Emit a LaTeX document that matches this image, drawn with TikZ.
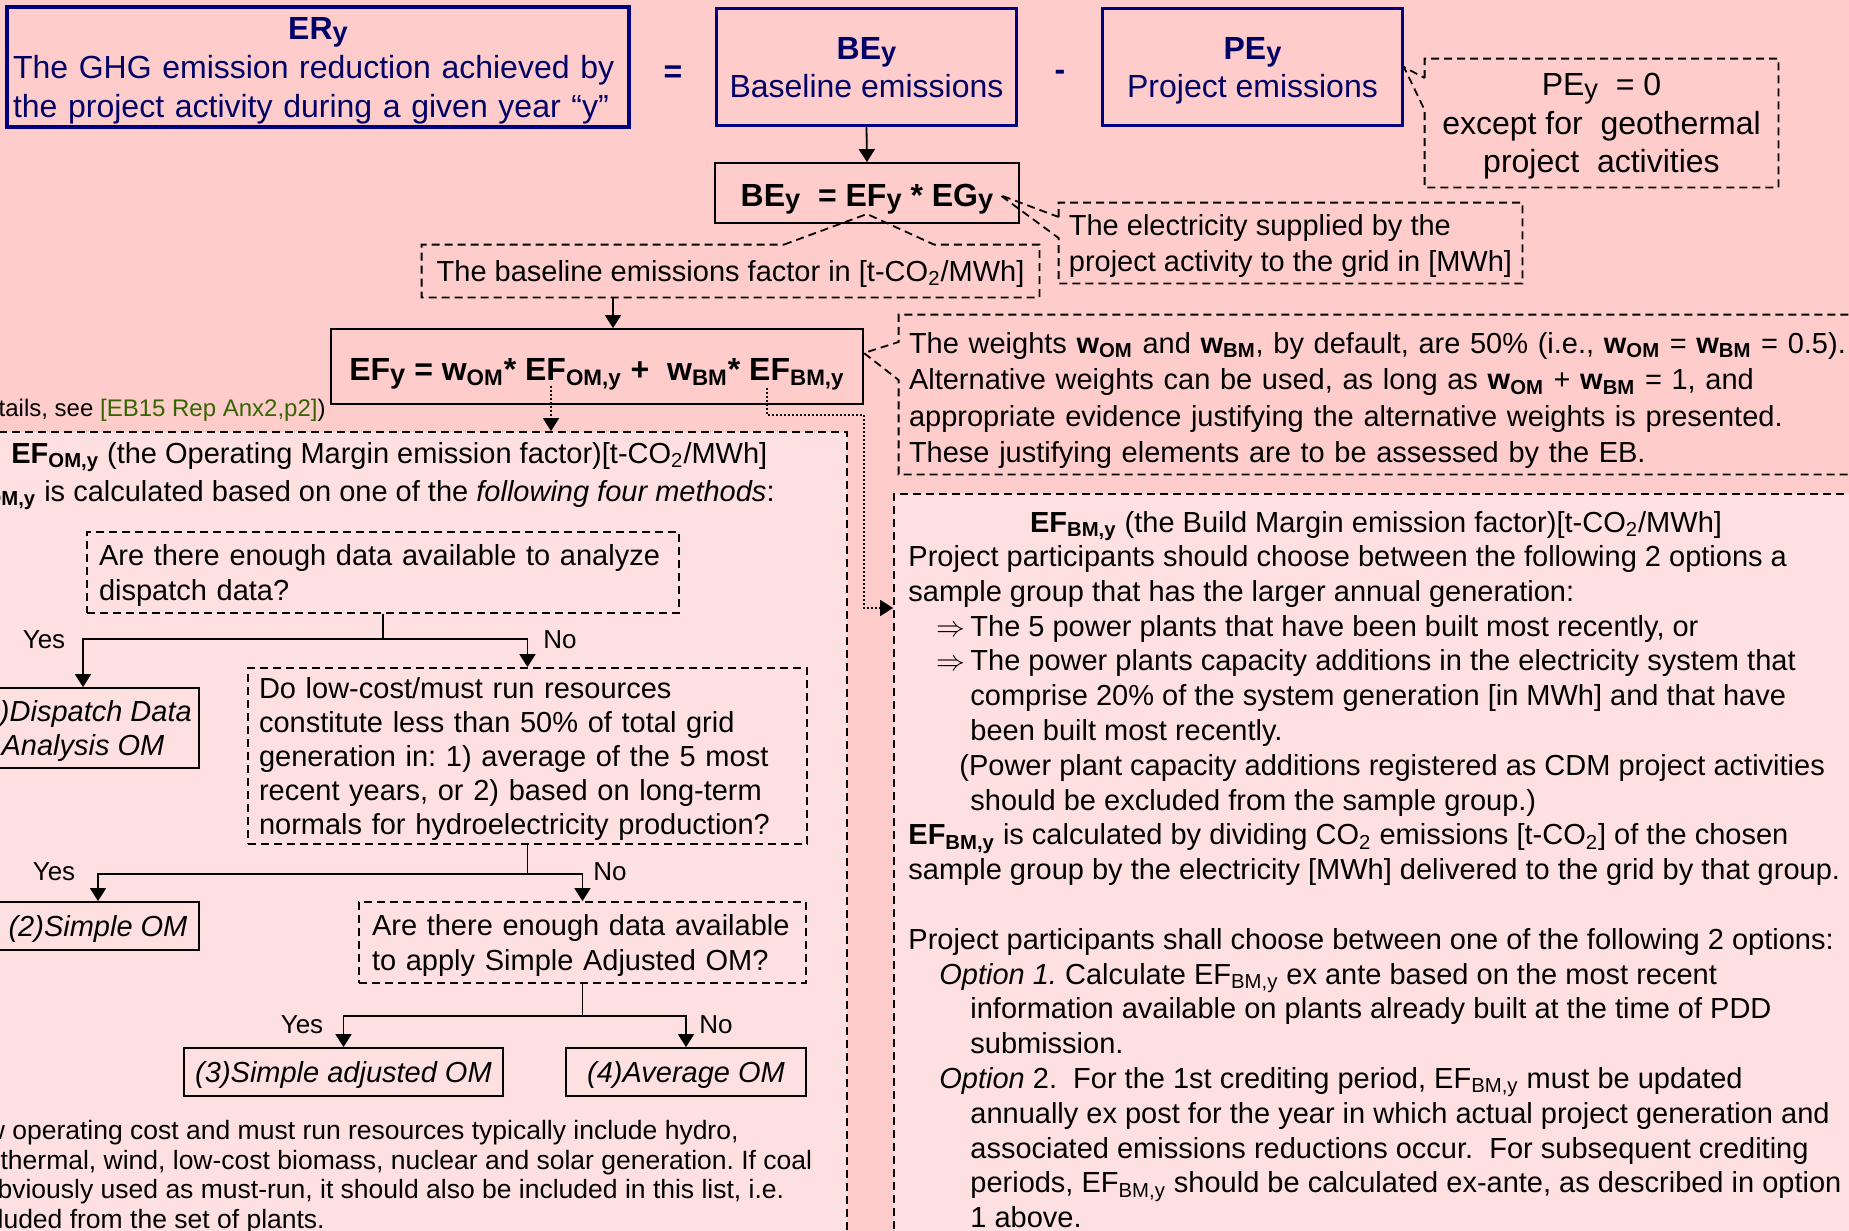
\documentclass[tikz,border=0pt]{standalone}
\usepackage{graphicx}
\usepackage{fontspec}
\setmainfont{Liberation Sans}
\usetikzlibrary{arrows.meta}
\frenchspacing
\definecolor{bgpink}{RGB}{255,204,204}
\definecolor{panelpink}{RGB}{255,224,224}
\definecolor{navy}{RGB}{0,0,128}
\definecolor{navytext}{RGB}{0,0,102}
\definecolor{refgreen}{RGB}{51,102,0}
\newcommand\yy{\raisebox{-0.15ex}{\scalebox{0.85}{y}}}
\newcommand\wom{\textbf{w\textsubscript{OM}}}
\newcommand\wbm{\textbf{w\textsubscript{BM}}}
\newcommand\fbig{\fontsize{16}{19}\selectfont}
\newcommand\fmid{\fontsize{14.5}{17.4}\selectfont}
\newcommand\fsmall{\fontsize{13}{14.75}\selectfont}
\newcommand\fref{\fontsize{12}{14}\selectfont}
\newcommand\impl{\hspace*{14pt}\makebox[17pt][l]{$\Rightarrow$}}
\tikzset{
  navybox/.style={draw=navy, text=navytext, font=\fbig, align=center, inner sep=0pt},
  solidbox/.style={draw, line width=0.9pt, inner sep=0pt},
  dashbox/.style={draw, line width=0.9pt, dash pattern=on 4pt off 2.5pt, inner sep=0pt},
  panel/.style={dashbox, fill=panelpink},
  wedgeline/.style={line width=0.9pt, dash pattern=on 4pt off 2.5pt},
  arr/.style={-{Triangle[length=6.5pt,width=8pt]}, line width=0.9pt},
  dotarr/.style={arr, dash pattern=on 0.8pt off 1.2pt},
  lbl/.style={font=\fsmall, inner sep=0pt},
}
\begin{document}
\begin{tikzpicture}[x=0.5pt, y=-0.5pt]
  \useasboundingbox (0,0) rectangle (1849,1231);
  \clip (0,0) rectangle (1849,1231);
  \fill[bgpink] (0,0) rectangle (1849,1231);

  % ER = BE - PE
  \node[navybox, font=\fontsize{16}{19.5}\selectfont, align=left, text width=305pt, text depth=39pt, line width=2.2pt, minimum width=311pt, minimum height=60pt] (er) at (318,67)
    {\makebox[\linewidth]{\textbf{ER\yy}}\\The GHG emission reduction achieved by\\the project activity during a given year “y”};
  \node[font=\fbig\bfseries, text=navytext] (eq) at (673,74) {=};
  \node[navybox, text depth=0pt, line width=1.4pt, minimum width=150pt, minimum height=58.5pt] (be) at (866.5,67)
    {\textbf{BE\yy}\\Baseline emissions};
  \node[font=\fbig\bfseries, text=navytext] (minus) at (1060,75) {-};
  \node[navybox, text depth=0pt, line width=1.4pt, minimum width=150pt, minimum height=58.5pt] (pe) at (1252.5,67)
    {\textbf{PE\yy}\\Project emissions};
  \node[font=\fontsize{16}{19.2}\selectfont, align=center, inner sep=0pt, text depth=0pt, minimum width=176.5pt, minimum height=64pt] (pezero) at (1601.5,123)
    {PE\yy\ \ = 0\\except for\ \ geothermal\\project\ \ activities};
  \draw[wedgeline] (pezero.west |- 0,78) -- (pezero.north west) -- (pezero.north east) -- (pezero.south east)
    -- (pezero.south west) -- (pezero.west |- 0,110) -- (pe.east) -- cycle;

  % BE formula
  \node[solidbox, font=\fbig\bfseries, text height=14pt, text depth=1pt, minimum width=152pt, minimum height=30pt] (beq) at (867,193)
    {BE\yy\ \ = EF\yy\ * EG\yy};
  \draw[arr] (be.south) -- (beq.north);
  \coordinate (eftip) at (867,214);
  \coordinate (egtip) at (1000,195);
  \node[font=\fontsize{14.5}{18}\selectfont, align=left, inner sep=0pt, text depth=0pt, minimum width=231.5pt, minimum height=40pt] (elec) at (1290.5,243)
    {The electricity supplied by the\\project activity to the grid in [MWh]};
  \draw[wedgeline] (elec.west |- 0,217) -- (elec.north west) -- (elec.north east) -- (elec.south east)
    -- (elec.south west) -- (elec.west |- 0,238) -- (egtip) -- cycle;
  \node[font=\fmid, inner sep=0pt, text depth=0pt, minimum width=308.5pt, minimum height=26pt] (bef) at (730.5,271)
    {The baseline emissions factor in [t-CO\textsubscript{2}/MWh]};
  \draw[wedgeline] (bef.north -| 784,0) -- (eftip) -- (bef.north -| 934,0) -- (bef.north east)
    -- (bef.south east) -- (bef.south west) -- (bef.north west) -- cycle;

  % EF formula and weights
  \node[solidbox, font=\fbig\bfseries, text height=15pt, text depth=1pt, minimum width=266pt, minimum height=37.5pt] (efy) at (597,366.5)
    {EF\yy\ = w\textsubscript{OM}* EF\textsubscript{OM,y} +\ \ w\textsubscript{BM}* EF\textsubscript{BM,y}};
  \draw[arr] (bef.south -| 613,0) -- (efy.north -| 613,0);
  \node[font=\fontsize{14.5}{18.25}\selectfont, align=left, text width=490.5pt, inner sep=0pt, text depth=51.75pt, minimum width=500.5pt, minimum height=79.5pt] (weights) at (1399.5,394.5)
    {The weights \wom{} and \wbm, by default, are 50\% (i.e., \wom{} = \wbm{} = 0.5).\\
     Alternative weights can be used, as long as \wom{} + \wbm{} = 1, and\\
     appropriate evidence justifying the alternative weights is presented.\\
     These justifying elements are to be assessed by the EB.};
  \draw[wedgeline] (weights.north east) -- (weights.north west) -- (weights.west |- 0,342) -- (efy.east |- 0,353)
    -- (weights.west |- 0,380) -- (weights.south west) -- (weights.south east);
  \node[font=\fref, anchor=east, inner sep=0pt] (ebref) at (326,410)
    {(For details, see \textcolor{refgreen}{[EB15 Rep Anx2,p2]})};

  % the two margin panels
  \node[panel, minimum width=433.5pt, minimum height=414pt] (ompanel) at (413.5,846) {};
  \node[panel, minimum width=488pt, minimum height=383pt] (bmpanel) at (1382,877) {};
  \coordinate (omtap) at (551,386);
  \coordinate (bmtap) at (767,388);
  \draw[dotarr] (omtap) -- (ompanel.north -| omtap);
  \draw[dotarr] (bmtap) |- (efy.east |- 0,415) |- (bmpanel.west |- 0,608);

  % operating margin
  \node[font=\fmid, anchor=west, inner sep=0pt] (omtitle) at (11,457)
    {\textbf{EF\textsubscript{OM,y}} (the Operating Margin emission factor)[t-CO\textsubscript{2}/MWh]};
  \node[font=\fmid, anchor=east, inner sep=0pt] (omrule) at (775,495)
    {\textbf{EF\textsubscript{OM,y}} is calculated based on one of the \textit{following four methods}:};
  \node[dashbox, font=\fontsize{14.5}{17.5}\selectfont, align=left, text width=284pt, text depth=17.5pt, minimum width=296pt, minimum height=40.5pt] (q1) at (383,572.5)
    {Are there enough data available to analyze\\dispatch data?};
  \node[solidbox, font=\fontsize{14.5}{17}\selectfont\itshape, align=center, text depth=0pt, minimum width=116pt, minimum height=40pt] (dispatch) at (83,728)
    {(1)Dispatch Data\\Analysis OM};
  \node[dashbox, font=\fontsize{14.5}{17}\selectfont, align=left, text width=268.5pt, text depth=68pt, minimum width=279.5pt, minimum height=88pt] (q2) at (527.5,756)
    {Do low-cost/must run resources\\constitute less than 50\% of total grid\\generation in: 1) average of the 5 most\\recent years, or 2) based on long-term\\normals for hydroelectricity production?};
  \node[solidbox, font=\fmid\itshape, text depth=0pt, minimum width=101pt, minimum height=24pt] (simpleom) at (98,926) {(2)Simple OM};
  \node[dashbox, font=\fontsize{14.5}{17.5}\selectfont, align=left, text width=210.5pt, text depth=17.5pt, minimum width=223.5pt, minimum height=40.5pt] (q3) at (582.5,942.5)
    {Are there enough data available\\to apply Simple Adjusted OM?};
  \node[solidbox, font=\fmid\itshape, text depth=0pt, minimum width=159.5pt, minimum height=24pt] (simpleadj) at (343.5,1072) {(3)Simple adjusted OM};
  \node[solidbox, font=\fmid\itshape, text depth=0pt, minimum width=120pt, minimum height=24pt] (averageom) at (686,1072) {(4)Average OM};

  \draw[arr] (q1.south) -- ++(0,25) -| (dispatch.north);
  \draw[arr] (q1.south) -- ++(0,25) -| (q2.north);
  \node[lbl] (yes1) at (44,640) {Yes};
  \node[lbl] (no1) at (560,640) {No};
  \draw[arr] (q2.south) -- ++(0,29) -| (simpleom.north);
  \draw[arr] (q2.south) -- ++(0,29) -| (q3.north);
  \node[lbl] (yes2) at (54,872) {Yes};
  \node[lbl] (no2) at (610,872) {No};
  \draw[arr] (q3.south) -- ++(0,32) -| (simpleadj.north);
  \draw[arr] (q3.south) -- ++(0,32) -| (averageom.north);
  \node[lbl] (yes3) at (302,1025) {Yes};
  \node[lbl] (no3) at (716,1025) {No};

  \node[font=\fontsize{13.25}{14.75}\selectfont, align=left, anchor=north west, inner sep=0pt] (omnote) at (-44,1120)
    {Low operating cost and must run resources typically include hydro,\\
     geothermal, wind, low-cost biomass, nuclear and solar generation. If coal\\
     is obviously used as must-run, it should also be included in this list, i.e.\\
     excluded from the set of plants.};

  % build margin
  \node[font=\fmid] (bmtitle) at (1376,526)
    {\textbf{EF\textsubscript{BM,y}} (the Build Margin emission factor)[t-CO\textsubscript{2}/MWh]};
  \node[font=\fmid, align=left, anchor=north west, inner sep=0pt] (bmbody) at (908,545)
    {Project participants should choose between the following 2 options a\\
     sample group that has the larger annual generation:\\
     \impl The 5 power plants that have been built most recently, or\\
     \impl The power plants capacity additions in the electricity system that\\
     \hspace*{31pt}comprise 20\% of the system generation [in MWh] and that have\\
     \hspace*{31pt}been built most recently.\\
     \hspace*{25.5pt}(Power plant capacity additions registered as CDM project activities\\
     \hspace*{31pt}should be excluded from the sample group.)\\
     \textbf{EF\textsubscript{BM,y}} is calculated by dividing CO\textsubscript{2} emissions [t-CO\textsubscript{2}] of the chosen\\
     sample group by the electricity [MWh] delivered to the grid by that group.\\
     ~\\
     Project participants shall choose between one of the following 2 options:\\
     \hspace*{15.5pt}\textit{Option 1.} Calculate EF\textsubscript{BM,y} ex ante based on the most recent\\
     \hspace*{31pt}information available on plants already built at the time of PDD\\
     \hspace*{31pt}submission.\\
     \hspace*{15.5pt}\textit{Option} 2.\ \ For the 1st crediting period, EF\textsubscript{BM,y} must be updated\\
     \hspace*{31pt}annually ex post for the year in which actual project generation and\\
     \hspace*{31pt}associated emissions reductions occur.\ \ For subsequent crediting\\
     \hspace*{31pt}periods, EF\textsubscript{BM,y} should be calculated ex-ante, as described in option\\
     \hspace*{31pt}1 above.};
\end{tikzpicture}
\end{document}
